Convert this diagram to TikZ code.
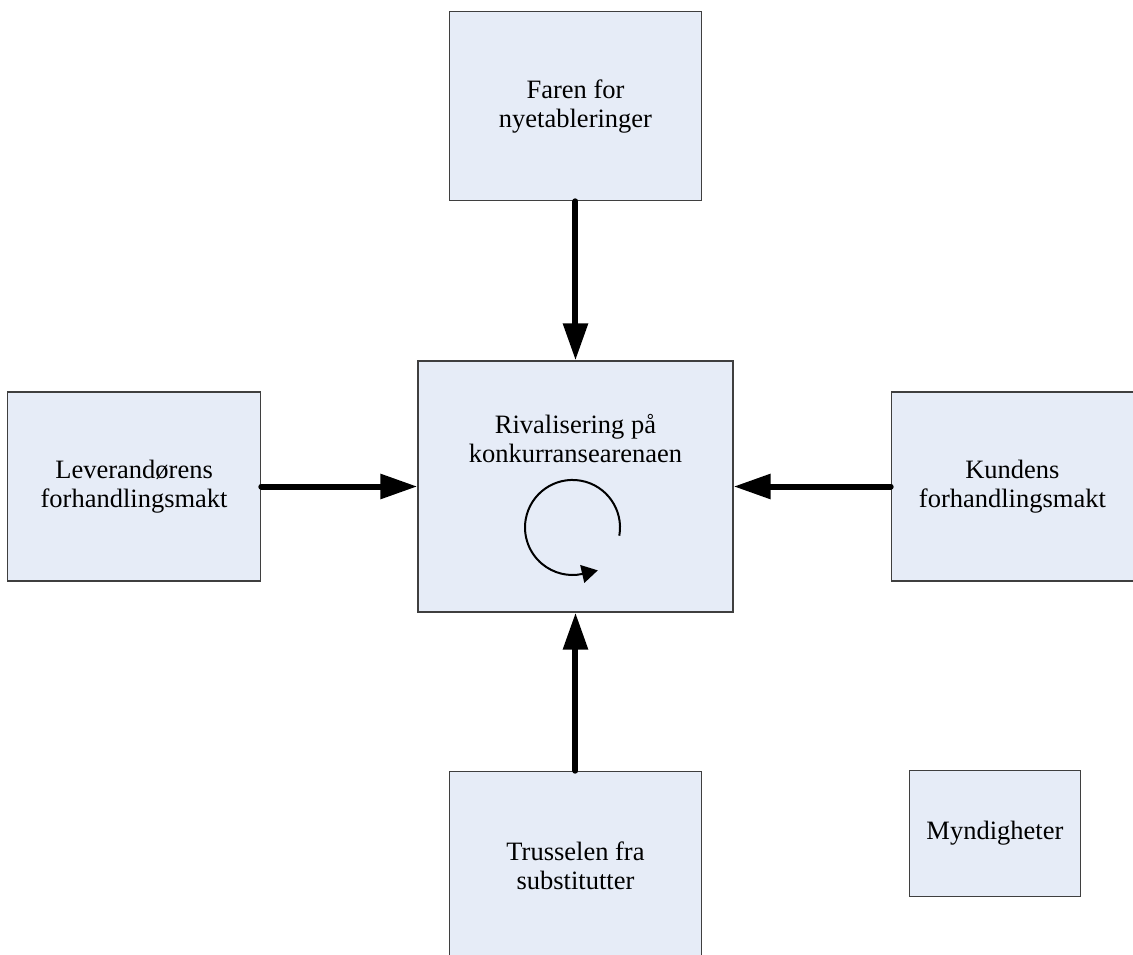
\documentclass[tikz,border=0pt]{standalone}
\usepackage{fontspec}
\setmainfont{Liberation Serif}
\usepackage{xcolor}
\usepackage{tikz}
\usetikzlibrary{positioning,arrows.meta}
\definecolor{ForceFill}{HTML}{E6ECF7}
\definecolor{ForceLine}{HTML}{3F3F3F}

\begin{document}
\begin{tikzpicture}[
  force/.style={draw=ForceLine,line width=1.4pt,fill=ForceFill,align=center,inner sep=0pt,
    minimum width=252pt,minimum height=189pt,font=\fontsize{26.5}{29}\selectfont},
  label text/.style={align=center,inner sep=0pt,font=\fontsize{26.5}{29}\selectfont},
  arrow/.style={-{Triangle[length=37pt,width=24pt]},line width=6pt,line cap=round},
  loop arrow/.style={-{Triangle[length=16pt,width=18pt]},line width=2pt,shorten >=-15pt}
]
\useasboundingbox (-575.5pt,-467.5pt) rectangle (557.5pt,486.5pt);
\node[force,minimum width=315pt,minimum height=251pt] (rival) at (0,0) {};
\node[label text] (rivaltxt) at ([yshift=47.5pt]rival.center) {Rivalisering på\\konkurransearenaen};
\node[force,above=159pt of rival] (faren) {Faren for\\nyetableringer};
\node[force,left=156pt of rival,minimum width=253pt] (leverandor) {Leverandørens\\forhandlingsmakt};
\node[force,right=157pt of rival,minimum width=242pt] (kunden) {Kundens\\forhandlingsmakt};
\node[force,below=158pt of rival] (trussel) {Trusselen fra\\substitutter};
\node[force,below=188pt of kunden,xshift=-17.5pt,minimum width=171pt,minimum height=126pt] (myndighet) {Myndigheter};
\draw[arrow] (faren) -- (rival);
\draw[arrow] (leverandor) -- (rival);
\draw[arrow] (kunden) -- (rival);
\draw[arrow] (trussel) -- (rival);
\draw[loop arrow] ([xshift=43.8pt,yshift=-49.2pt]rival.center) arc[start angle=-10,end angle=283,radius=47.5pt];
\end{tikzpicture}
\end{document}
